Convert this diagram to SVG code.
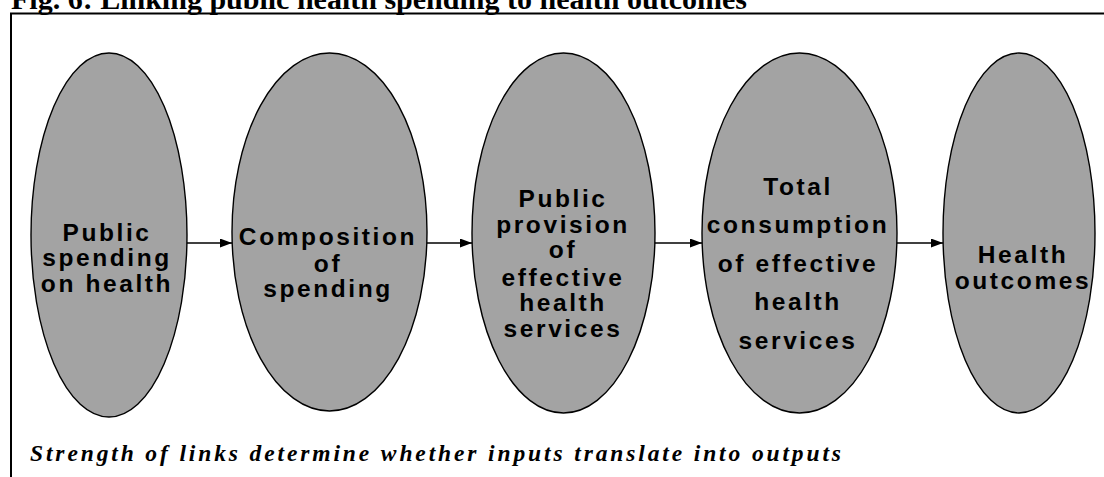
<svg xmlns="http://www.w3.org/2000/svg" width="1104" height="477" viewBox="0 0 1104 477">
<style>
.title{font-family:"Liberation Serif","Times New Roman",serif;font-weight:bold;font-size:30px;fill:#000}
.note{font-family:"Liberation Serif","Times New Roman",serif;font-weight:bold;font-style:italic;font-size:23.5px;fill:#000}
.node ellipse{fill:#a3a3a3;stroke:#000;stroke-width:1.4}
.node text{font-family:"Liberation Sans",Arial,sans-serif;font-weight:bold;font-size:24.5px;letter-spacing:2.6px;text-anchor:middle;fill:#000}
.conn line{stroke:#000;stroke-width:1.3}
.frame{stroke:#000;stroke-width:2;fill:none}
</style>
<defs>
<marker id="arr" markerWidth="12" markerHeight="9" refX="12" refY="4.5" orient="auto" markerUnits="userSpaceOnUse">
<path d="M0,0 L12,4.5 L0,9 Z" fill="#000"/>
</marker>
</defs>
<rect width="1104" height="477" fill="#fff"/>
<text class="title" x="11" y="9">Fig. 6: Linking public health spending to health outcomes</text>
<path class="frame" d="M11,477 L11,13.5 L1104,13.5"/>
<g id="n1" class="node">
<ellipse cx="109" cy="235" rx="78" ry="182"/>
<text x="107" y="241">Public</text>
<text x="107" y="266">spending</text>
<text x="107" y="292">on health</text>
</g>
<g id="n2" class="node">
<ellipse cx="329.5" cy="232" rx="97.5" ry="179"/>
<text x="328" y="245">Composition</text>
<text x="328" y="271.5">of</text>
<text x="328" y="297">spending</text>
</g>
<g id="n3" class="node">
<ellipse cx="563.5" cy="233" rx="91.5" ry="180"/>
<text x="563" y="207">Public</text>
<text x="563" y="233">provision</text>
<text x="563" y="258">of</text>
<text x="563" y="285.5">effective</text>
<text x="563" y="311">health</text>
<text x="563" y="336.5">services</text>
</g>
<g id="n4" class="node">
<ellipse cx="799.5" cy="233" rx="97.5" ry="180"/>
<text x="798" y="194.5">Total</text>
<text x="798" y="233">consumption</text>
<text x="798" y="271.5">of effective</text>
<text x="798" y="310">health</text>
<text x="798" y="348.5">services</text>
</g>
<g id="n5" class="node">
<ellipse cx="1019" cy="233" rx="76" ry="180"/>
<text x="1023" y="263">Health</text>
<text x="1023" y="289">outcomes</text>
</g>
<g id="connectors" class="conn">
<line x1="187" y1="243" x2="232" y2="243" marker-end="url(#arr)"/>
<line x1="427" y1="243" x2="472" y2="243" marker-end="url(#arr)"/>
<line x1="655" y1="243" x2="702" y2="243" marker-end="url(#arr)"/>
<line x1="897" y1="243" x2="943" y2="243" marker-end="url(#arr)"/>
</g>
<text class="note" x="30" y="461" textLength="811" lengthAdjust="spacing">Strength of links determine whether inputs translate into outputs</text>
</svg>
